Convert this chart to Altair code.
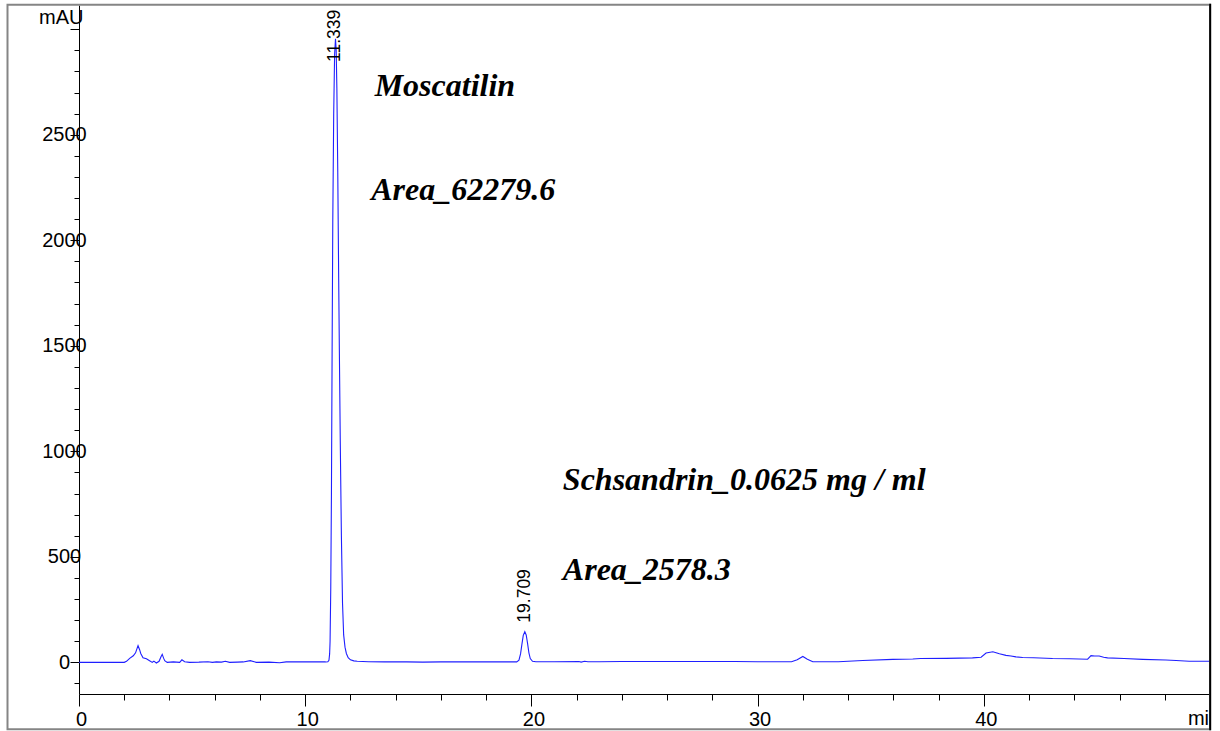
import altair as alt
import pandas as pd

# Chromatogram trace: retention time (min) and detector response (mAU)
time_min = [
    0.0, 1.0, 2.0, 2.1, 2.24, 2.4, 2.5, 2.61, 2.68, 2.73, 2.83, 2.98, 3.12, 3.24,
    3.31, 3.42, 3.54, 3.62, 3.68, 3.74, 3.79, 3.9, 4.17, 4.45, 4.55, 4.67, 4.89,
    5.3, 5.7, 5.9, 6.07, 6.3, 6.47, 6.66, 7.0, 7.26, 7.57, 7.84, 8.4, 8.87, 9.16,
    9.75, 10.3, 10.9,
    11.0, 11.05, 11.08, 11.10, 11.13, 11.16, 11.19, 11.22, 11.26, 11.30, 11.339,
    11.37, 11.40, 11.44, 11.48, 11.51, 11.55, 11.60, 11.65, 11.70, 11.76, 11.82,
    11.90, 12.0, 12.15, 12.3, 12.8, 13.5, 14.5, 15.2, 16.0, 17.0, 18.0, 19.0,
    19.35, 19.45, 19.52, 19.58, 19.64, 19.709, 19.77, 19.83, 19.89, 19.95, 20.05,
    20.2, 21.0, 22.1, 22.2, 22.35, 22.5, 23.0, 24.0, 25.0, 26.0, 27.0, 28.0, 29.0,
    30.0, 31.0, 31.5, 31.75, 32.0, 32.2, 32.44, 33.57, 34.65, 35.97, 36.86, 37.2,
    38.33, 39.5, 39.88, 40.1, 40.4, 40.69, 40.98, 41.2, 41.42, 41.72, 42.2, 43.04,
    43.8, 44.59, 44.74, 44.9, 45.1, 45.3, 45.47, 46.2, 47.02, 48.05, 48.5, 49.08,
    50.0,
]
signal_mau = [
    0, 0, 0, 5, 19, 31, 45, 79, 60, 42, 22, 17, 8, 0,
    6, -3, 5, 25, 38, 20, 8, 0, 2, 0, 12, 3, 0,
    1, 3, 0, 2, 1, 5, 0, 1, 2, 8, 0, 1, -2, 2,
    3, 2, 2,
    3, 10, 40, 100, 350, 800, 1480, 2100, 2600, 2880, 2955,
    2900, 2720, 2320, 1820, 1480, 1050, 600, 280, 130, 72, 42,
    22, 12, 7, 5, 3, 2, 2, 1, 2, 2, 2, 2,
    2, 10, 40, 85, 128, 145, 130, 90, 45, 18, 5,
    3, 3, 4, 1, 5, 3, 3, 4, 4, 4, 4, 4, 4,
    3, 3, 3, 12, 28, 15, 3, 3, 9, 14, 16, 18,
    19, 21, 24, 44, 50, 41, 33, 30, 26, 23, 22, 18,
    17, 15, 32, 30, 30, 24, 21, 18, 14, 11, 9, 5,
    5,
]

# Integrated peaks with their retention-time labels
peak_rt = [11.339, 19.709]
peak_height = [2955, 145]
peak_label = ["11.339", "19.709"]

# Compound annotations
note_text = ["Moscatilin", "Area_62279.6", "Schsandrin_0.0625 mg / ml", "Area_2578.3"]
note_rt = [13.07, 12.92, 21.39, 21.39]
note_mau = [2686, 2189, 816, 390]

X_DOMAIN = [0, 50]
Y_DOMAIN = [-150, 3115]
W, H = 1131, 689

trace = pd.DataFrame({"t": time_min, "v": signal_mau})
peaks = pd.DataFrame({"t": peak_rt, "h": peak_height, "label": peak_label})
# label sits just above its apex, but is kept inside the top edge
peaks["anchor"] = [min(h + 43, 2845) for h in peak_height]
notes = pd.DataFrame({"t": note_rt, "v": note_mau, "text": note_text})
one = pd.DataFrame({"k": [0]})

SANS = "Liberation Sans"
x_scale = alt.Scale(domain=X_DOMAIN, nice=False, zero=False)
y_scale = alt.Scale(domain=Y_DOMAIN, nice=False, zero=False)

x_axis = alt.Axis(
    values=list(range(0, 50, 2)),
    labelExpr="datum.value % 10 === 0 ? datum.label : ''",
    tickSize={"condition": {"test": "datum.value % 10 === 0", "value": 12}, "value": 6},
    labelPadding=3,
    labelOffset=2,
    labelFont=SANS,
    labelFontSize=20,
    labelColor="black",
    labelOverlap=False,
    labelFlush=False,
    domainColor="black",
    tickColor="black",
    grid=False,
    title=None,
    format="d",
)
y_axis = alt.Axis(
    values=list(range(-100, 3001, 100)),
    labelExpr="datum.value % 500 === 0 && datum.value < 3000 ? datum.label : ''",
    tickSize={"condition": {"test": "datum.value % 500 === 0", "value": 9}, "value": 5},
    labelAlign="center",
    labelBaseline="middle",
    labelPadding=6,
    labelFont=SANS,
    labelFontSize=20,
    labelColor="black",
    labelOverlap=False,
    labelFlush=False,
    domainColor="black",
    tickColor="black",
    grid=False,
    title=None,
    format="d",
)

line = alt.Chart(trace).mark_line(color="#1f1fff", strokeWidth=1.1).encode(
    x=alt.X("t:Q", scale=x_scale, axis=x_axis),
    y=alt.Y("v:Q", scale=y_scale, axis=y_axis),
)

peak_text = alt.Chart(peaks).mark_text(
    angle=270, align="left", baseline="middle", font=SANS, fontSize=17.5, color="black"
).encode(
    x=alt.X("t:Q", scale=x_scale, axis=x_axis),
    y=alt.Y("anchor:Q", scale=y_scale, axis=y_axis),
    text="label:N",
)

note_marks = alt.Chart(notes).mark_text(
    align="left", baseline="alphabetic", font="Liberation Serif",
    fontSize=32, fontStyle="italic", fontWeight="bold", color="black",
).encode(
    x=alt.X("t:Q", scale=x_scale, axis=x_axis),
    y=alt.Y("v:Q", scale=y_scale, axis=y_axis),
    text="text:N",
)

unit_y = alt.Chart(one).mark_text(
    align="center", baseline="middle", font=SANS, fontSize=20, color="black"
).encode(x=alt.value(-17.7), y=alt.value(13.3), text=alt.value("mAU"))

unit_x = alt.Chart(one).mark_text(
    align="center", baseline="middle", font=SANS, fontSize=20, color="black"
).encode(x=alt.value(1125), y=alt.value(713.8), text=alt.value("min"))

cover = alt.Chart(one).mark_rect(color="white").encode(
    x=alt.value(1132), x2=alt.value(1145), y=alt.value(-6), y2=alt.value(730)
)

frame = alt.Chart(one).mark_rect(
    fillOpacity=0, stroke="#858585", strokeWidth=2
).encode(x=alt.value(-71.5), x2=alt.value(1131), y=alt.value(-0.3), y2=alt.value(724.3))

right_edge = alt.Chart(one).mark_rule(color="black", strokeWidth=2).encode(
    x=alt.value(1131.2), y=alt.value(-1.3), y2=alt.value(725.3)
)

chart = alt.layer(
    line, peak_text, note_marks, unit_y, unit_x, cover, frame, right_edge
).properties(
    width=W,
    height=H,
    padding={"left": 79, "top": 5, "right": 10, "bottom": 37},
    autosize=alt.AutoSizeParams(type="none"),
    background="white",
).configure_view(stroke=None).configure_axis(labelOverlap=False)

chart.save("out.html", embed_options={"renderer": "svg", "actions": False})
